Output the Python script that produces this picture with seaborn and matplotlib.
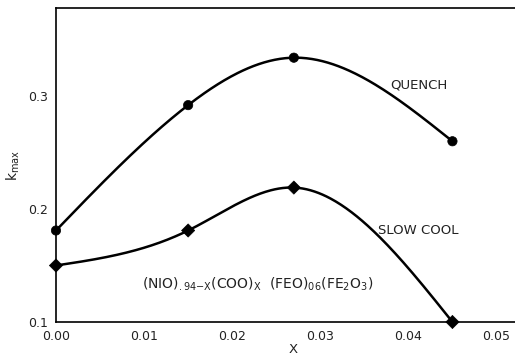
import numpy as np
import pandas as pd
import matplotlib
matplotlib.use("Agg")
import matplotlib.pyplot as plt
import seaborn as sns

# Composition x and measured k_max for the two heat treatments
x_vals = [0.0, 0.015, 0.027, 0.045]
quench = [0.181, 0.292, 0.334, 0.260]
slow_cool = [0.150, 0.181, 0.219, 0.100]

x_ticks = [0.00, 0.01, 0.02, 0.03, 0.04, 0.05]
x_tick_labels = ["0.00", "0.01", "0.02", "0.03", "0.04", "0.05"]
y_ticks = [0.1, 0.2, 0.3]
y_tick_labels = ["0.1", "0.2", "0.3"]


def natural_spline(xk, yk, xs):
    """Natural cubic spline through the measured points."""
    xk = np.asarray(xk, float)
    yk = np.asarray(yk, float)
    n = len(xk)
    h = np.diff(xk)
    A = np.zeros((n, n))
    b = np.zeros(n)
    A[0, 0] = A[-1, -1] = 1.0
    for i in range(1, n - 1):
        A[i, i - 1] = h[i - 1]
        A[i, i] = 2 * (h[i - 1] + h[i])
        A[i, i + 1] = h[i]
        b[i] = 6 * ((yk[i + 1] - yk[i]) / h[i] - (yk[i] - yk[i - 1]) / h[i - 1])
    M = np.linalg.solve(A, b)
    out = np.empty_like(xs)
    for j, xv in enumerate(xs):
        i = int(np.clip(np.searchsorted(xk, xv, side="right") - 1, 0, n - 2))
        a = xk[i + 1] - xv
        c = xv - xk[i]
        out[j] = (M[i] * a**3 / (6 * h[i]) + M[i + 1] * c**3 / (6 * h[i])
                  + (yk[i] / h[i] - M[i] * h[i] / 6) * a
                  + (yk[i + 1] / h[i] - M[i + 1] * h[i] / 6) * c)
    return out


sns.set_theme(style="white")
plt.rcParams["font.family"] = ["DejaVu Sans"]

fig = plt.figure(figsize=(5.15, 3.58), dpi=100)
fig.patch.set_facecolor("white")
ax = fig.add_axes([0.1087, 0.1006, 0.8913, 0.8771])
ax.set_facecolor("white")

xs = np.linspace(x_vals[0], x_vals[-1], 300)
curves = pd.DataFrame({
    "x": np.concatenate([xs, xs]),
    "k": np.concatenate([natural_spline(x_vals, quench, xs),
                         natural_spline(x_vals, slow_cool, xs)]),
    "series": ["QUENCH"] * len(xs) + ["SLOW COOL"] * len(xs),
})
points = pd.DataFrame({
    "x": x_vals + x_vals,
    "k": quench + slow_cool,
    "series": ["QUENCH"] * 4 + ["SLOW COOL"] * 4,
})

sns.lineplot(data=curves, x="x", y="k", units="series", estimator=None,
             color="black", linewidth=1.8, ax=ax, legend=False)
sns.scatterplot(data=points, x="x", y="k", style="series",
                markers={"QUENCH": "o", "SLOW COOL": "D"},
                color="black", s=45, edgecolor="black", linewidth=0.5,
                ax=ax, legend=False, zorder=5, clip_on=False)

ax.set_xlim(0.0, 0.0521)
ax.set_ylim(0.1, 0.378)
ax.set_xticks(x_ticks)
ax.set_xticklabels(x_tick_labels)
ax.set_yticks(y_ticks)
ax.set_yticklabels(y_tick_labels)
ax.set_yticks([0.15, 0.25, 0.35], minor=True)

for side in ["left", "bottom", "top"]:
    ax.spines[side].set_visible(True)
    ax.spines[side].set_color("black")
    ax.spines[side].set_linewidth(1.2)
ax.spines["right"].set_visible(False)

ax.tick_params(axis="both", which="both", direction="in", color="black",
               labelsize=9, labelcolor="#222222")
ax.tick_params(axis="both", which="major", length=8, width=1)
ax.tick_params(axis="y", which="minor", length=8, width=1)
ax.tick_params(axis="x", which="major", pad=6)
ax.tick_params(axis="y", which="major", pad=6)

ax.set_xlabel("X", fontsize=9.5, color="#222222")
ax.xaxis.set_label_coords(0.516, -0.068)
ax.set_ylabel(r"k$_{\mathrm{max}}$", fontsize=10, color="#222222", labelpad=4)

ax.text(0.0379, 0.31, "QUENCH", fontsize=9.5, color="#222222", va="center")
ax.text(0.0365, 0.181, "SLOW COOL", fontsize=9.5, color="#222222", va="center")
ax.text(0.0098, 0.133,
        r"(NIO)$_{.94\mathrm{-X}}$(COO)$_\mathrm{X}$  (FEO)$_{06}$(FE$_2$O$_3$)",
        fontsize=10, color="#222222", va="center")

fig.savefig("out.png", dpi=100, facecolor="white")
